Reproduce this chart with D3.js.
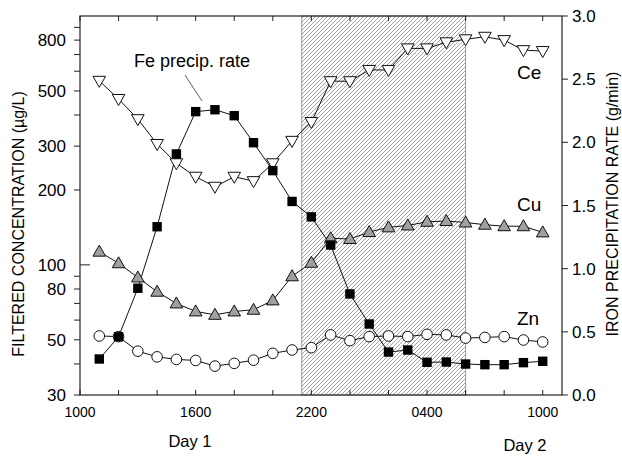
<!DOCTYPE html>
<html>
<head>
<meta charset="utf-8">
<script src="https://cdn.jsdelivr.net/npm/d3@7"></script>
<style>
  html, body { margin: 0; padding: 0; background: #fff; }
  svg text { font-family: "Liberation Sans", Arial, sans-serif; fill: #000; }
</style>
</head>
<body>
<svg id="chart" width="622" height="456"></svg>
<script>
// ---- data ----
const hours = [11,12,13,14,15,16,17,18,19,20,21,22,23,24,25,26,27,28,29,30,31,32,33,34];
const ce = [549,464,385,306,256,226,206,226,217,256,315,375,547,547,607,607,741,741,784,806,825,800,729,723];
const cu = [113,101.5,89,78,70,65,63,65,66,72,90,102,128,127,135.5,141.5,144,149,150,148,145,143,143,135];
const zn = [51.8,51.5,45,42.7,41.7,41.3,39.2,40.2,41.4,44.1,45.5,46.5,52.3,49.6,51.5,51.8,51.5,52.6,52.3,50.8,51.1,51.5,49.9,49];
const fe = [0.285,0.461,0.845,1.332,1.908,2.243,2.258,2.211,1.997,1.776,1.532,1.41,1.187,0.80,0.562,0.34,0.356,0.259,0.261,0.245,0.24,0.24,0.256,0.267];
const shadeStart = 21.5, shadeEnd = 30;
const xTickHours = [10,12,14,16,18,20,22,24,26,28,30,32,34];
const xLabelHours = [10,16,22,28,34];
const xLabels = ["1000","1600","2200","0400","1000"];
const leftTicks = [30,40,50,60,70,80,90,100,200,300,400,500,600,700,800,900];
const leftLabels = [30,50,80,100,200,300,500,800];
const rightTicks = [0,0.5,1.0,1.5,2.0,2.5,3.0];

// ---- layout ----
const L = 80, R = 562, T = 16, B = 395;
const svg = d3.select("#chart");
const x = d3.scaleLinear().domain([10,35]).range([L,R]);
const yL = d3.scaleLog().domain([30,1000]).range([B,T]);
const yR = d3.scaleLinear().domain([0,3]).range([B,T]);

// hatch pattern
const defs = svg.append("defs");
const pat = defs.append("pattern").attr("id","hatch").attr("patternUnits","userSpaceOnUse")
  .attr("width",4).attr("height",4);
pat.append("path").attr("d","M-1,1 L1,-1 M0,4 L4,0 M3,5 L5,3")
  .attr("stroke","#8c8c8c").attr("stroke-width",0.8);

svg.append("rect").attr("x",x(shadeStart)).attr("y",T)
  .attr("width",x(shadeEnd)-x(shadeStart)).attr("height",B-T)
  .attr("fill","url(#hatch)").attr("stroke","#9a9a9a").attr("stroke-width",1);

// frame
svg.append("rect").attr("x",L).attr("y",T).attr("width",R-L).attr("height",B-T)
  .attr("fill","none").attr("stroke","#222").attr("stroke-width",1.2);

// x ticks (inward, top and bottom)
const xt = svg.append("g").attr("stroke","#222").attr("stroke-width",1);
xTickHours.forEach(h => {
  xt.append("line").attr("x1",x(h)).attr("x2",x(h)).attr("y1",B).attr("y2",B-5);
  xt.append("line").attr("x1",x(h)).attr("x2",x(h)).attr("y1",T).attr("y2",T+5);
});
xLabelHours.forEach((h,i) => {
  svg.append("text").attr("x",x(h)).attr("y",417).attr("text-anchor","middle")
    .attr("font-size",14).text(xLabels[i]);
});

// left ticks
const lt = svg.append("g").attr("stroke","#222").attr("stroke-width",1);
leftTicks.forEach(v => {
  if (v === 100) lt.append("line").attr("x1",L).attr("x2",L+10).attr("y1",yL(v)).attr("y2",yL(v));
  else lt.append("line").attr("x1",L).attr("x2",L-6).attr("y1",yL(v)).attr("y2",yL(v));
});
leftLabels.forEach(v => {
  svg.append("text").attr("x",L-14).attr("y",yL(v)).attr("dy","0.36em")
    .attr("text-anchor","end").attr("font-size",17).text(v);
});

// right ticks
const rt = svg.append("g").attr("stroke","#222").attr("stroke-width",1);
rightTicks.forEach(v => {
  rt.append("line").attr("x1",R).attr("x2",R+6).attr("y1",yR(v)).attr("y2",yR(v));
  svg.append("text").attr("x",R+10).attr("y",yR(v)).attr("dy","0.36em")
    .attr("font-size",17).text(v.toFixed(1));
});

// axis titles
svg.append("text").attr("transform","translate(24,224) rotate(-90)")
  .attr("text-anchor","middle").attr("font-size",16).text("FILTERED CONCENTRATION (\u00b5g/L)");
svg.append("text").attr("transform","translate(618,204) rotate(-90)")
  .attr("text-anchor","middle").attr("font-size",16).text("IRON PRECIPITATION RATE (g/min)");

svg.append("text").attr("x",190).attr("y",447).attr("text-anchor","middle").attr("font-size",16.5).text("Day 1");
svg.append("text").attr("x",525).attr("y",451).attr("text-anchor","middle").attr("font-size",16.5).text("Day 2");

// series lines
function drawLine(vals, yS) {
  svg.append("path").datum(vals)
    .attr("d", d3.line().x((d,i)=>x(hours[i])).y(d=>yS(d)))
    .attr("fill","none").attr("stroke","#111").attr("stroke-width",1);
}
drawLine(zn, yL);
drawLine(cu, yL);
drawLine(ce, yL);
drawLine(fe, yR);

// markers
svg.append("g").selectAll("circle").data(zn).join("circle")
  .attr("cx",(d,i)=>x(hours[i])).attr("cy",d=>yL(d)).attr("r",5.3)
  .attr("fill","#fff").attr("stroke","#111").attr("stroke-width",1);
svg.append("g").selectAll("path").data(cu).join("path")
  .attr("d",(d,i)=>{const cx=x(hours[i]), cy=yL(d); return `M${cx},${cy-6.5} L${cx+6.3},${cy+4.5} L${cx-6.3},${cy+4.5} Z`;})
  .attr("fill","#a0a0a0").attr("stroke","#111").attr("stroke-width",1);
svg.append("g").selectAll("path").data(ce).join("path")
  .attr("d",(d,i)=>{const cx=x(hours[i]), cy=yL(d); return `M${cx},${cy+6.5} L${cx+6.3},${cy-4.5} L${cx-6.3},${cy-4.5} Z`;})
  .attr("fill","#fff").attr("stroke","#111").attr("stroke-width",1);
svg.append("g").selectAll("rect").data(fe).join("rect")
  .attr("x",(d,i)=>x(hours[i])-4.7).attr("y",d=>yR(d)-4.7).attr("width",9.4).attr("height",9.4)
  .attr("fill","#000");

// annotations
svg.append("text").attr("x",134).attr("y",67).attr("font-size",18).text("Fe precip. rate");
svg.append("line").attr("x1",185).attr("y1",75).attr("x2",202).attr("y2",101)
  .attr("stroke","#333").attr("stroke-width",0.8);
svg.append("text").attr("x",517).attr("y",79).attr("font-size",19).text("Ce");
svg.append("text").attr("x",517).attr("y",211).attr("font-size",19).text("Cu");
svg.append("text").attr("x",517).attr("y",325).attr("font-size",19).text("Zn");
</script>
</body>
</html>
